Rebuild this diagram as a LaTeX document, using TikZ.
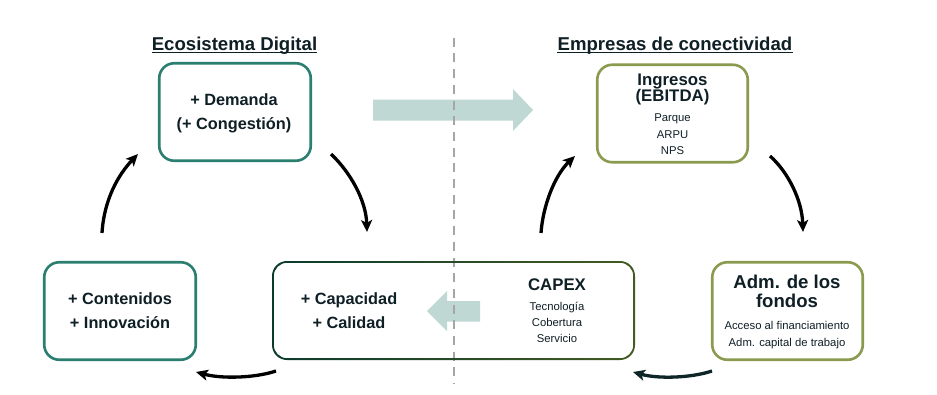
\documentclass[tikz,border=0pt]{standalone}
\usepackage{fontspec}
\setmainfont{Liberation Sans}
\usetikzlibrary{arrows.meta}
\definecolor{tealc}{HTML}{2A7F70}
\definecolor{olivec}{HTML}{8A9A4E}
\definecolor{txt}{HTML}{0F1F26}
\definecolor{arr}{HTML}{BFD8D3}
\definecolor{dashc}{HTML}{A6A6A6}
\definecolor{capL}{HTML}{0B3B2C}
\definecolor{capR}{HTML}{435B22}
\definecolor{darkarr}{HTML}{0E2628}
\begin{document}
\begin{tikzpicture}[x=1pt,y=-1pt,
  tbox/.style={draw=tealc, rounded corners=15pt, line width=2.6pt, inner sep=0, minimum width=151.5pt, minimum height=97.5pt},
  obox/.style={draw=olivec, rounded corners=15pt, line width=2.6pt, inner sep=0, minimum width=150.5pt, minimum height=97.5pt},
  lbl/.style={text=txt, inner sep=0, anchor=base},
  bA/.style={lbl, font=\bfseries\fontsize{16.3}{19}\selectfont},
  bB/.style={lbl, font=\bfseries\fontsize{16.8}{19}\selectfont},
  bC/.style={lbl, font=\bfseries\fontsize{18.6}{21}\selectfont},
  sm/.style={lbl, font=\fontsize{11.3}{13}\selectfont},
  curv/.style={line width=3.3pt, -{Stealth[length=12pt,width=11pt,inset=3pt]}},
]
\useasboundingbox (0,0) rectangle (937,394);
\fill[white] (0,0) rectangle (937,394);

% block arrows
\fill[arr] (373,99.5) -- (513,99.5) -- (513,89) -- (533,110) -- (513,131) -- (513,120.5) -- (373,120.5) -- cycle;
\fill[arr] (480,301) -- (447,301) -- (447,291) -- (427,311) -- (447,331) -- (447,321.5) -- (480,321.5) -- cycle;

% separator
\coordinate (sepT) at (453.7,37.7);
\coordinate (sepB) at (453.7,384);
\draw[dashc, line width=2pt, dash pattern=on 9pt off 6.7pt] (sepT) -- (sepB);

% boxes
\node[tbox] (dem) at (235,112) {};
\node[obox] (ing) at (672.5,113.5) {};
\node[tbox] (con) at (120,311) {};
\node[obox] (adm) at (787.5,311) {};
\node[inner sep=0, minimum width=363pt, minimum height=99pt] (capbox) at (453.5,310.5) {};
\shade[left color=capL, right color=capR, even odd rule]
  [rounded corners=15pt] (272,261) rectangle (635,360)
  [rounded corners=13.2pt] (273.8,262.8) rectangle (633.2,358.2);

% titles
\node[bC] (t1) at (234.5,50) {Ecosistema Digital};
\draw[txt, line width=1.3pt] ([yshift=-2.4pt]t1.base west) -- ([yshift=-2.4pt]t1.base east);
\node[bC] (t2) at (675,50) {Empresas de conectividad};
\draw[txt, line width=1.3pt] ([yshift=-2.4pt]t2.base west) -- ([yshift=-2.4pt]t2.base east);

% box texts
\node[bA] (dem1) at (234,105) {+ Demanda};
\node[bA] (dem2) at (234,129) {(+ Congestión)};
\node[bA] (con1) at (120,304) {+ Contenidos};
\node[bA] (con2) at (120,328) {+ Innovación};
\node[bA] (cap1) at (349,304) {+ Capacidad};
\node[bA] (cap2) at (349,328) {+ Calidad};
\node[bB] (cx) at (557,290) {CAPEX};
\node[sm] (cx1) at (557,310.7) {Tecnología};
\node[sm] (cx2) at (557,326.5) {Cobertura};
\node[sm] (cx3) at (557,342.5) {Servicio};
\node[bB] (ing1) at (672.5,85) {Ingresos};
\node[bB] (ing2) at (672.5,101) {(EBITDA)};
\node[sm] (ing3) at (672.5,121.7) {Parque};
\node[sm] (ing4) at (672.5,138.3) {ARPU};
\node[sm] (ing5) at (672.5,154.3) {NPS};
\node[bC] (adm1) at (787,288.3) {Adm. de los};
\node[bC] (adm2) at (787,307.3) {fondos};
\node[sm] (adm3) at (787,329.3) {Acceso al financiamiento};
\node[sm] (adm4) at (787,346) {Adm. capital de trabajo};

% curved arrows
\coordinate (a1s) at (102,233); \coordinate (a1e) at (138,154);
\coordinate (a2s) at (331,154); \coordinate (a2e) at (367,232);
\coordinate (a3s) at (541,233); \coordinate (a3e) at (575,156);
\coordinate (a4s) at (770,156); \coordinate (a4e) at (803,232);
\coordinate (a5s) at (276,371); \coordinate (a5e) at (196,372);
\coordinate (a6s) at (712,371); \coordinate (a6e) at (633,372);
\draw[curv] (a1s) .. controls (104,200) and (118,175) .. (a1e);
\draw[curv] (a2s) .. controls (350,172) and (366,200) .. (a2e);
\draw[curv] (a3s) .. controls (543,205) and (555,175) .. (a3e);
\draw[curv] (a4s) .. controls (788,172) and (802,200) .. (a4e);
\draw[curv] (a5s) .. controls (255,378) and (222,379) .. (a5e);
\draw[curv, darkarr] (a6s) .. controls (691,378) and (658,379) .. (a6e);
\end{tikzpicture}
\end{document}
